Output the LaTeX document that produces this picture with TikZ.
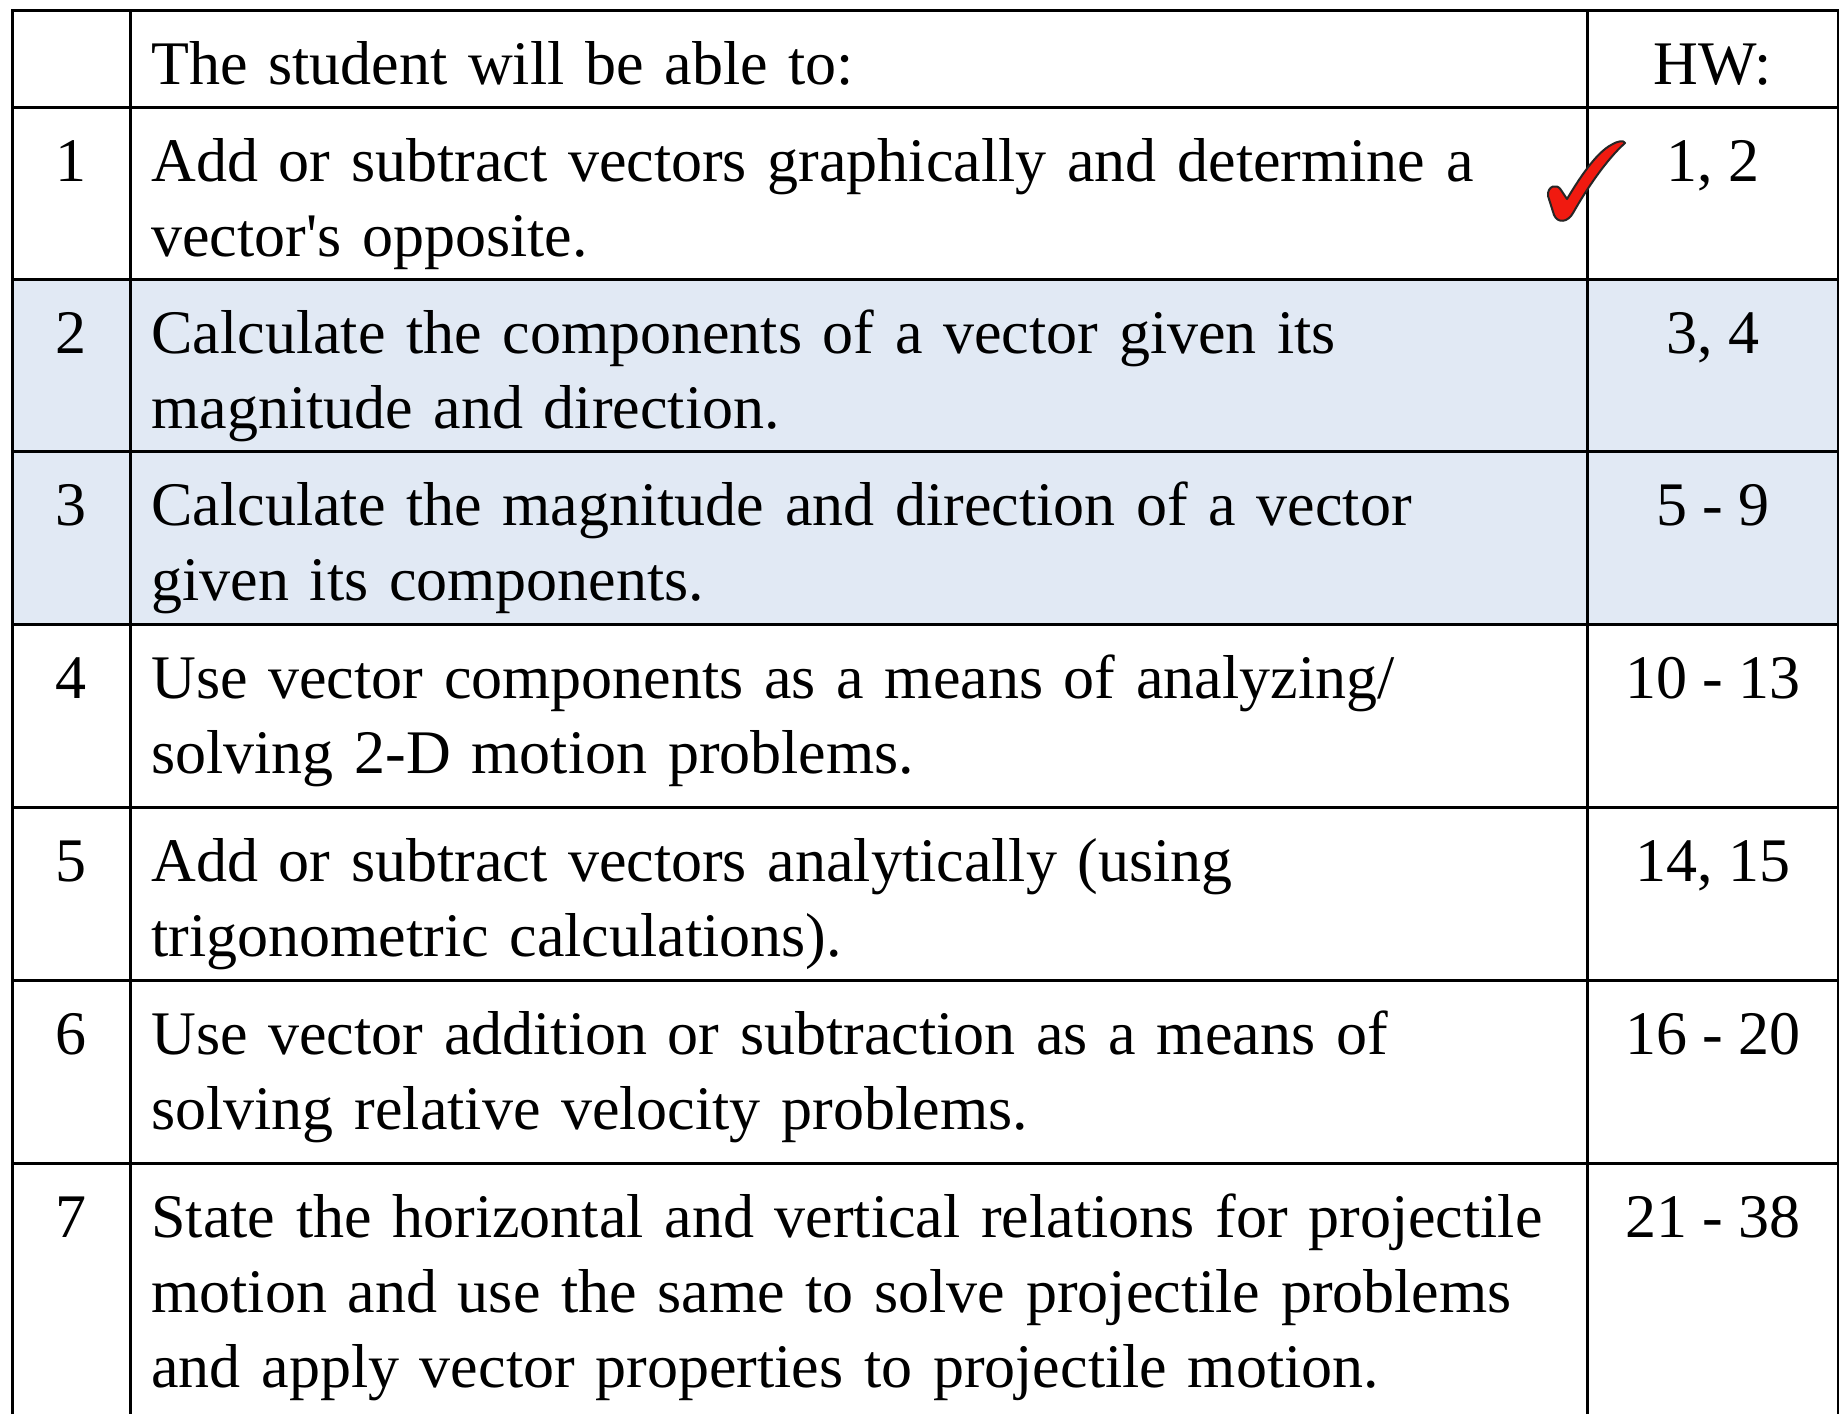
\documentclass[tikz,border=0pt]{standalone}
\usepackage{fontspec}
\setmainfont{Liberation Serif}[Ligatures=TeXOff]
\definecolor{rowblue}{HTML}{E1E9F4}
\definecolor{checkred}{HTML}{F01A10}
\begin{document}
\begin{tikzpicture}[x=0.5pt,y=-0.5pt,
  cell/.style={font=\fontsize{31}{37.5}\selectfont, inner sep=0pt, anchor=base west,
               text width=720pt, align=left},
  numcell/.style={font=\fontsize{31}{37.5}\selectfont, inner sep=0pt, anchor=base},
  rule/.style={line width=1.5pt, black}]
\useasboundingbox (0,0) rectangle (1839,1414);
\fill[white] (0,0) rectangle (1839,1414);
% shaded rows 2 and 3
\fill[rowblue] (12,279) rectangle (1839,624);
% grid
\draw[rule] (12,1414) -- (12,10) -- (1838,10) -- (1838,1414);
\draw[rule] (130,10) -- (130,1414);
\draw[rule] (1587,10) -- (1587,1414);
\foreach \yy in {107,279,451,624,807,980,1163}
  \draw[rule] (12,\yy) -- (1838,\yy);
% header
\node[cell] (head) at (151,84) {The student will be able to:};
\node[numcell] (hw) at (1713,84) {HW:};
% rows
\node[numcell] (n1) at (71,181) {1};
\node[cell] (t1) at (151,181) {Add or subtract vectors graphically and determine a\\vector's opposite.};
\node[numcell] (h1) at (1713,181) {1, 2};
\node[numcell] (n2) at (71,353) {2};
\node[cell] (t2) at (151,353) {Calculate the components of a vector given its\\magnitude and direction.};
\node[numcell] (h2) at (1713,353) {3, 4};
\node[numcell] (n3) at (71,525) {3};
\node[cell] (t3) at (151,525) {Calculate the magnitude and direction of a vector\\given its components.};
\node[numcell] (h3) at (1713,525) {5 - 9};
\node[numcell] (n4) at (71,698) {4};
\node[cell] (t4) at (151,698) {Use vector components as a means of analyzing/\\solving 2-D motion problems.};
\node[numcell] (h4) at (1713,698) {10 - 13};
\node[numcell] (n5) at (71,881) {5};
\node[cell] (t5) at (151,881) {Add or subtract vectors analytically (using\\trigonometric calculations).};
\node[numcell] (h5) at (1713,881) {14, 15};
\node[numcell] (n6) at (71,1054) {6};
\node[cell] (t6) at (151,1054) {Use vector addition or subtraction as a means of\\solving relative velocity problems.};
\node[numcell] (h6) at (1713,1054) {16 - 20};
\node[numcell] (n7) at (71,1237) {7};
\node[cell] (t7) at (151,1237) {State the horizontal and vertical relations for projectile\\motion and use the same to solve projectile problems\\and apply vector properties to projectile motion.};
\node[numcell] (h7) at (1713,1237) {21 - 38};
% red check mark
\filldraw[fill=checkred, draw=black!85, line width=1pt, line join=round]
  (1548,196) .. controls (1547,186) and (1557,183) .. (1561,190)
  -- (1567,199)
  .. controls (1583,172) and (1598,152) .. (1611,145)
  .. controls (1617,141) and (1624,140) .. (1625,143)
  .. controls (1606,160) and (1586,190) .. (1573,213)
  .. controls (1568,222) and (1558,224) .. (1554,215)
  -- cycle;
\end{tikzpicture}
\end{document}
